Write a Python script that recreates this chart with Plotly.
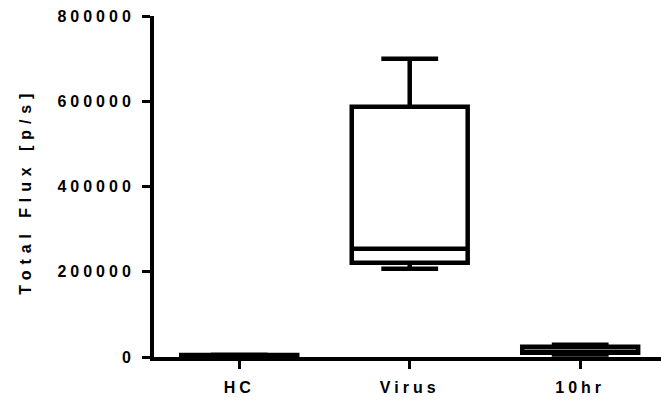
import plotly.graph_objects as go

categories = ["HC", "Virus", "10hr"]
lower_whisker = [2000, 207000, 6000]
q1_values = [3000, 221000, 10000]
median_values = [3500, 254000, 10000]
q3_values = [4500, 587000, 24000]
upper_whisker = [5500, 700000, 29000]

y_tick_values = [0, 200000, 400000, 600000, 800000]
y_tick_labels = ["0", "200000", "400000", "600000", "800000"]
y_title = "Total Flux [p/s]"

FONT = "Liberation Sans, Arial, sans-serif"

fig = go.Figure()
fig.add_trace(go.Box(
    x=categories,
    q1=q1_values,
    median=median_values,
    q3=q3_values,
    lowerfence=lower_whisker,
    upperfence=upper_whisker,
    width=0.68,
    whiskerwidth=0.49,
    line=dict(color="black", width=4.5),
    fillcolor="rgba(255,255,255,0)",
    boxpoints=False,
    showlegend=False,
    hoverinfo="skip",
))

fig.update_layout(
    width=661,
    height=401,
    margin=dict(l=154, r=0, t=16, b=44),
    paper_bgcolor="white",
    plot_bgcolor="white",
    font=dict(family=FONT, size=16, color="black", weight="bold"),
    annotations=[dict(
        text=y_title,
        xref="paper", yref="paper",
        x=0, y=0.5,
        xanchor="center", yanchor="middle",
        xshift=-129, yshift=-5,
        textangle=-90,
        showarrow=False,
        font=dict(family=FONT, size=16, color="black", weight="bold"),
    )],
)

fig.update_xaxes(
    type="category",
    range=[-0.5, 2.474],
    showline=True,
    linecolor="black",
    linewidth=4,
    ticks="outside",
    ticklen=8,
    tickwidth=3,
    tickcolor="black",
    showgrid=False,
    zeroline=False,
    ticklabelstandoff=5,
    tickfont=dict(family=FONT, size=16, color="black", weight="bold"),
)

fig.update_yaxes(
    range=[0, 800000],
    tickmode="array",
    tickvals=y_tick_values,
    ticktext=y_tick_labels,
    showline=True,
    linecolor="black",
    linewidth=4,
    ticks="outside",
    ticklen=8,
    tickwidth=3,
    tickcolor="black",
    showgrid=False,
    zeroline=False,
    ticklabelstandoff=4,
    tickfont=dict(family=FONT, size=16, color="black", weight="bold"),
)

post = """
document.body.style.margin = '0';
var gd = document.getElementById('{plot_id}');
function ls(){
  gd.querySelectorAll('.xtick text, .ytick text').forEach(function(e){ e.style.letterSpacing = '4px'; });
  gd.querySelectorAll('.annotation-text').forEach(function(e){ e.style.letterSpacing = '5.9px'; });
}
ls();
gd.on('plotly_afterplot', ls);
"""

fig.write_html("out.html", post_script=post, config={"displayModeBar": False})
